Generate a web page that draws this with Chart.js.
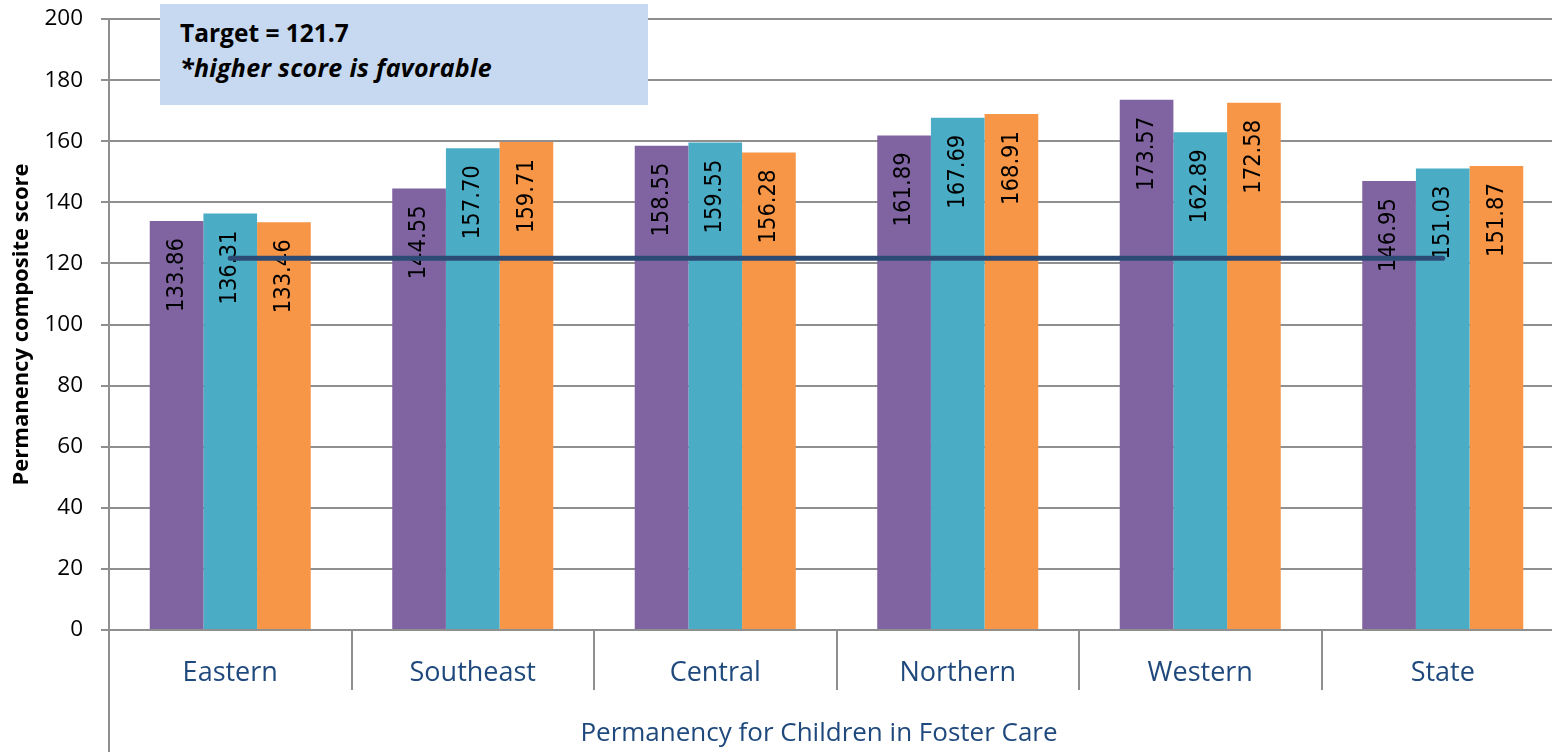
<!DOCTYPE html>
<html>
<head>
<meta charset="utf-8">
<script src="https://cdn.jsdelivr.net/npm/chart.js@4.4.1/dist/chart.umd.min.js"></script>
<style>
  html, body { margin: 0; padding: 0; background: #fff; overflow: hidden; }
  #wrap { position: relative; width: 1566px; height: 752px; }
  #note {
    position: absolute; left: 160px; top: 4px; width: 468px; height: 90px;
    background: #C6D9F1; padding: 11px 0 0 20px;
    font-family: 'Open Sans', sans-serif; font-weight: bold; font-size: 24.5px;
    line-height: 35px; color: #000; z-index: 2;
  }
  #note .l2 { font-style: italic; font-size: 25px; letter-spacing: 0.3px; }
</style>
</head>
<body>
<div id="wrap">
  <canvas id="c"></canvas>
  <div id="note"><div>Target = 121.7</div><div class="l2">*higher score is favorable</div></div>
</div>
<script>
const categories = ['Eastern', 'Southeast', 'Central', 'Northern', 'Western', 'State'];
const series1 = [133.86, 144.55, 158.55, 161.89, 173.57, 146.95];
const series2 = [136.31, 157.70, 159.55, 167.69, 162.89, 151.03];
const series3 = [133.46, 159.71, 156.28, 168.91, 172.58, 151.87];
const target = [121.7, 121.7, 121.7, 121.7, 121.7, 121.7];
const yTicks = [0, 20, 40, 60, 80, 100, 120, 140, 160, 180, 200];
const xTitle = 'Permanency for Children in Foster Care';

const GRID = '#8F8F8F';

const barLabels = {
  id: 'barLabels',
  afterDatasetDraw(chart, args) {
    const ds = chart.data.datasets[args.index];
    if (ds.type === 'line') return;
    const ctx = chart.ctx;
    ctx.save();
    ctx.font = "23.5px 'DejaVu Sans Condensed', 'DejaVu Sans', sans-serif";
    ctx.fillStyle = '#000';
    ctx.textAlign = 'right';
    ctx.textBaseline = 'middle';
    args.meta.data.forEach((el, i) => {
      ctx.save();
      ctx.translate(el.x, el.y + 17);
      ctx.rotate(-Math.PI / 2);
      ctx.fillText(ds.data[i].toFixed(2), 0, 0);
      ctx.restore();
    });
    ctx.restore();
  }
};

const axisExtend = {
  id: 'axisExtend',
  afterDraw(chart) {
    const ctx = chart.ctx;
    const a = chart.chartArea;
    ctx.save();
    ctx.strokeStyle = GRID;
    ctx.lineWidth = 2;
    ctx.beginPath();
    ctx.moveTo(a.left, a.bottom);
    ctx.lineTo(a.left, chart.height);
    ctx.stroke();
    // outer category label (multi-level axis)
    ctx.font = "26px 'Open Sans', sans-serif";
    ctx.fillStyle = '#1F497D';
    ctx.textAlign = 'center';
    ctx.textBaseline = 'middle';
    ctx.fillText(xTitle, 819, 734);
    ctx.restore();
  }
};

new Chart(document.getElementById('c'), {
  data: {
    labels: categories,
    datasets: [
      { type: 'line', label: 'Target', data: target, order: 0,
        borderColor: '#2C4B74', borderWidth: 5, borderCapStyle: 'round',
        pointRadius: 0, fill: false, tension: 0 },
      { type: 'bar', label: 'Series 1', data: series1, order: 1, backgroundColor: '#8064A2' },
      { type: 'bar', label: 'Series 2', data: series2, order: 1, backgroundColor: '#4BACC6' },
      { type: 'bar', label: 'Series 3', data: series3, order: 1, backgroundColor: '#F79646' }
    ]
  },
  options: {
    responsive: true,
    maintainAspectRatio: false,
    animation: false,
    layout: { padding: { top: 19, right: 2, bottom: 0, left: 0 } },
    datasets: { bar: { categoryPercentage: 0.664, barPercentage: 1.0, borderWidth: 0 } },
    plugins: { legend: { display: false }, tooltip: { enabled: false } },
    scales: {
      x: {
        offset: true,
        grid: { display: true, offset: true, drawOnChartArea: false, drawTicks: true,
                tickLength: 60, color: GRID, lineWidth: 2 },
        border: { display: true, color: GRID, width: 2 },
        ticks: { color: '#1F497D', padding: -33,
                 font: { family: "'Open Sans', sans-serif", size: 27 } },
        title: { display: false, text: xTitle },
        afterFit(scale) { scale.height = 122; scale.paddingLeft = 0; scale.paddingRight = 0; }
      },
      y: {
        min: 0, max: 200,
        afterBuildTicks(scale) { scale.ticks = yTicks.map(v => ({ value: v })); },
        grid: { color: GRID, lineWidth: 2, tickLength: 8, drawTicks: true },
        border: { display: true, color: GRID, width: 2 },
        ticks: { color: '#000', padding: 18,
                 font: { family: "'Open Sans', sans-serif", size: 22.5 } },
        title: { display: true, text: 'Permanency composite score', color: '#000',
                 padding: { top: 9, bottom: 0 },
                 font: { family: "'Open Sans', sans-serif", size: 22, weight: 'bold' } },
        afterFit(scale) { scale.width = 109; scale.paddingTop = 0; scale.paddingBottom = 0; }
      }
    }
  },
  plugins: [barLabels, axisExtend]
});
</script>
</body>
</html>
